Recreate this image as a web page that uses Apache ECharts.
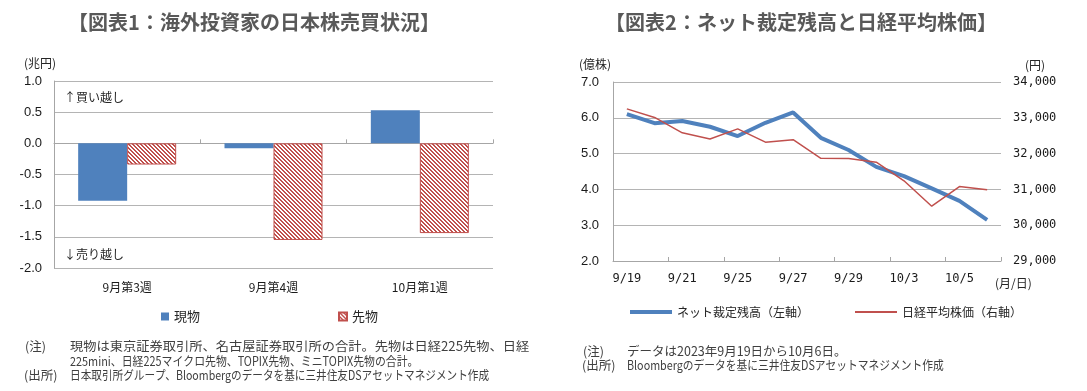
<!DOCTYPE html>
<html>
<head>
<meta charset="utf-8">
<script src="https://cdn.jsdelivr.net/npm/echarts@6/dist/echarts.min.js"></script>
<style>
html,body{margin:0;padding:0;background:#fff;}
#c{width:1087px;height:391px;}
</style>
</head>
<body>
<div id="c"></div>
<script>
// ---- Data: chart 1 ----
const weekCategories = ['9月第3週', '9月第4週', '10月第1週'];
const spotValues = [-0.92, -0.08, 0.53];      // 現物 (兆円)
const futuresValues = [-0.34, -1.55, -1.44];  // 先物 (兆円)

// ---- Data: chart 2 ----
const dateCategories = ['9/19','9/20','9/21','9/22','9/25','9/26','9/27','9/28','9/29','10/2','10/3','10/4','10/5','10/6'];
const arbitrageBalance = [6.10, 5.85, 5.91, 5.75, 5.49, 5.86, 6.15, 5.44, 5.10, 4.63, 4.37, 4.03, 3.68, 3.15]; // 億株
const nikkeiAverage = [33250, 33010, 32580, 32410, 32690, 32320, 32390, 31870, 31860, 31760, 31240, 30530, 31080, 30990]; // 円

const FONT = '"Noto Sans CJK JP", "Noto Sans", sans-serif';
const BLUE = '#4f81bd';
const RED = '#c0504d';
const GRID = '#b4b4b4';

// hatch pattern (diagonal "\" stripes)
function makeHatch() {
  const cv = document.createElement('canvas');
  cv.width = 4; cv.height = 4;
  const ctx = cv.getContext('2d');
  ctx.fillStyle = '#ffffff';
  ctx.fillRect(0, 0, 4, 4);
  ctx.fillStyle = RED;
  for (let i = 0; i < 4; i++) {
    ctx.fillRect(i, i, 1, 1);
    ctx.fillRect((i + 1) % 4, i, 1, 1);
  }
  return cv;
}
const hatch = { image: makeHatch(), repeat: 'repeat' };

function txt(text, x, y, opts) {
  opts = opts || {};
  return {
    type: 'text', x: x, y: y, silent: true,
    scaleX: opts.scaleX || 1,
    style: {
      text: text,
      font: (opts.weight || 'normal') + ' ' + (opts.size || 12) + 'px ' + FONT,
      fill: opts.color || '#262626',
      textAlign: opts.align || 'left',
      textVerticalAlign: 'middle'
    }
  };
}

const chart = echarts.init(document.getElementById('c'), null, { renderer: 'canvas' });

const NOTE = '#404040';
const option = {
  animation: false,
  textStyle: { fontFamily: FONT },
  grid: [
    { left: 54, top: 81, width: 439, height: 187 },
    { left: 613, top: 82, width: 388, height: 179 }
  ],
  legend: [
    { data: [{ name: '現物', icon: 'rect' }], left: 156, top: 305, itemWidth: 8, itemHeight: 8, itemGap: 4,
      textStyle: { fontSize: 13, color: '#262626', fontFamily: FONT } },
    { data: [{ name: '先物', icon: 'rect' }], left: 333, top: 305, itemWidth: 8, itemHeight: 8,
      textStyle: { fontSize: 13, color: '#262626', fontFamily: FONT } },
    { data: [{ name: 'ネット裁定残高（左軸）', icon: 'rect' }], left: 625, top: 301, itemWidth: 42, itemHeight: 4,
      textStyle: { fontSize: 12, color: '#262626', fontFamily: FONT } },
    { data: [{ name: '日経平均株価（右軸）', icon: 'rect' }], left: 850, top: 301, itemWidth: 42, itemHeight: 2,
      textStyle: { fontSize: 12, color: '#262626', fontFamily: FONT } }
  ],
  xAxis: [
    { // chart 1 axis line at zero
      type: 'category', gridIndex: 0, data: weekCategories, position: 'bottom',
      axisLine: { onZero: true, lineStyle: { color: '#a6a6a6', width: 1 } },
      axisTick: { show: true, inside: true, length: 4, lineStyle: { color: '#a6a6a6' } },
      axisLabel: { show: false }
    },
    { // chart 1 labels at bottom
      type: 'category', gridIndex: 0, data: weekCategories, position: 'bottom',
      axisLine: { show: false, onZero: false }, axisTick: { show: false },
      axisLabel: { color: '#1a1a1a', fontSize: 12, margin: 13, fontFamily: FONT }
    },
    { // chart 2
      type: 'category', gridIndex: 1, data: dateCategories, boundaryGap: true,
      axisLine: { lineStyle: { color: '#a6a6a6', width: 1 } },
      axisTick: { show: true, inside: true, length: 4, interval: 1, lineStyle: { color: '#a6a6a6' } },
      axisLabel: { interval: 1, color: '#1a1a1a', fontSize: 12, margin: 12, fontFamily: '"DejaVu Sans Mono", monospace' }
    }
  ],
  yAxis: [
    {
      type: 'value', gridIndex: 0, min: -2, max: 1, interval: 0.5,
      axisLine: { show: true, lineStyle: { color: '#a6a6a6' } },
      axisTick: { show: false },
      splitLine: { lineStyle: { color: GRID, width: 1 } },
      axisLabel: { formatter: v => v.toFixed(1), color: '#1a1a1a', fontSize: 13, margin: 12, fontFamily: '"Liberation Sans", sans-serif' }
    },
    {
      type: 'value', gridIndex: 1, min: 2, max: 7, interval: 1, position: 'left',
      axisLine: { show: true, lineStyle: { color: '#a6a6a6' } },
      axisTick: { show: false },
      splitLine: { lineStyle: { color: GRID, width: 1 } },
      axisLabel: { formatter: v => v.toFixed(1), color: '#1a1a1a', fontSize: 13, margin: 14, fontFamily: '"Liberation Sans", sans-serif' }
    },
    {
      type: 'value', gridIndex: 1, min: 29000, max: 34000, interval: 1000, position: 'right',
      axisLine: { show: false }, axisTick: { show: false },
      splitLine: { show: false },
      axisLabel: { formatter: v => v.toLocaleString('en-US'), color: '#1a1a1a', fontSize: 12, margin: 12, fontFamily: '"DejaVu Sans Mono", monospace' }
    }
  ],
  series: [
    {
      name: '現物', type: 'bar', xAxisIndex: 0, yAxisIndex: 0, data: spotValues,
      barWidth: 49, barGap: '0%',
      itemStyle: { color: BLUE }
    },
    {
      name: '先物', type: 'bar', xAxisIndex: 0, yAxisIndex: 0, data: futuresValues,
      barWidth: 49, barGap: '0%',
      itemStyle: { color: hatch, borderColor: RED, borderWidth: 1 }
    },
    {
      name: 'ネット裁定残高（左軸）', type: 'line', xAxisIndex: 2, yAxisIndex: 1, data: arbitrageBalance,
      symbol: 'none', z: 3,
      lineStyle: { color: BLUE, width: 4 }, itemStyle: { color: BLUE }
    },
    {
      name: '日経平均株価（右軸）', type: 'line', xAxisIndex: 2, yAxisIndex: 2, data: nikkeiAverage,
      symbol: 'none', z: 4,
      lineStyle: { color: RED, width: 1.5 }, itemStyle: { color: RED }
    }
  ],
  graphic: [
    txt('【図表1：海外投資家の日本株売買状況】', 254, 22, { size: 20, weight: 'bold', color: '#595959', align: 'center' }),
    txt('【図表2：ネット裁定残高と日経平均株価】', 801, 22, { size: 20, weight: 'bold', color: '#595959', align: 'center' }),
    txt('(兆円)', 24, 63, { size: 12 }),
    txt('↑買い越し', 64, 97, { size: 12 }),
    txt('↓売り越し', 64, 254, { size: 12 }),
    txt('(億株)', 579, 64, { size: 12 }),
    txt('(円)', 1025, 65, { size: 12 }),
    txt('(月/日)', 995, 283, { size: 12 }),
    txt('(注)', 25, 346, { size: 12.5, color: NOTE }),
    txt('現物は東京証券取引所、名古屋証券取引所の合計。先物は日経225先物、日経', 70, 346, { size: 12.5, color: NOTE, scaleX: 1.06 }),
    txt('225mini、日経225マイクロ先物、TOPIX先物、ミニTOPIX先物の合計。', 70, 361, { size: 12.5, color: NOTE, scaleX: 0.87 }),
    txt('(出所)', 24, 375, { size: 12.5, color: NOTE }),
    txt('日本取引所グループ、Bloombergのデータを基に三井住友DSアセットマネジメント作成', 70, 375, { size: 12.5, color: NOTE, scaleX: 0.85 }),
    txt('(注)', 583, 351, { size: 12.5, color: NOTE }),
    txt('データは2023年9月19日から10月6日。', 627, 351, { size: 12.5, color: NOTE }),
    txt('(出所)', 582, 365, { size: 12.5, color: NOTE }),
    txt('Bloombergのデータを基に三井住友DSアセットマネジメント作成', 627, 365, { size: 12.5, color: NOTE, scaleX: 0.86 })
  ]
};
chart.setOption(option);
</script>
</body>
</html>
